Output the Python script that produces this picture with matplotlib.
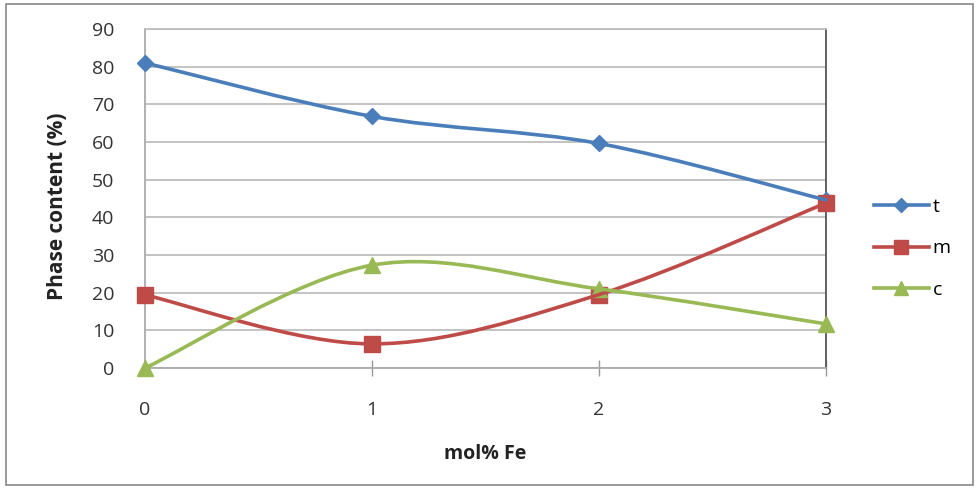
import numpy as np
import matplotlib
matplotlib.use("Agg")
import matplotlib.pyplot as plt
from matplotlib.path import Path
from matplotlib.patches import PathPatch, Rectangle
from matplotlib.lines import Line2D

plt.rcParams['font.family'] = ['Open Sans', 'DejaVu Sans']

x_vals = [0, 1, 2, 3]
t_vals = [81.0, 66.8, 59.6, 44.6]
m_vals = [19.4, 6.4, 19.5, 43.8]
c_vals = [0.0, 27.3, 21.0, 11.7]
series_names = ['t', 'm', 'c']
colors = ['#4A7EBB', '#BE4B48', '#98B954']
markers = ['D', 's', '^']
msizes = [8, 12, 12]

fig = plt.figure(figsize=(9.78, 4.88), dpi=100)
fig.patches.append(Rectangle((0.006, 0.006), 0.989, 0.986, transform=fig.transFigure,
                             fill=False, edgecolor='#888888', lw=1.2))
ax = fig.add_axes([0.1483, 0.2459, 0.6963, 0.6947])


def smooth_path(xs, ys, ax):
    # Excel-like smoothing: cubic Bezier with Catmull-Rom control points, in display space
    pts = ax.transData.transform(np.column_stack([xs, ys]))
    n = len(pts)
    verts = [pts[0]]
    codes = [Path.MOVETO]
    for i in range(n - 1):
        p0 = pts[i - 1] if i > 0 else pts[i]
        p1 = pts[i]
        p2 = pts[i + 1]
        p3 = pts[i + 2] if i + 2 < n else pts[i + 1]
        c1 = p1 + (p2 - p0) / 6.0
        c2 = p2 - (p3 - p1) / 6.0
        verts += [c1, c2, p2]
        codes += [Path.CURVE4] * 3
    return Path(verts, codes)


ax.set_xlim(0, 3)
ax.set_ylim(0, 90)
fig.canvas.draw()

for ys, col, mk, ms, name in zip([t_vals, m_vals, c_vals], colors, markers, msizes, series_names):
    p = smooth_path(x_vals, ys, ax)
    patch = PathPatch(p, transform=None, fill=False, edgecolor=col, lw=2.6, zorder=3,
                      capstyle='round', joinstyle='round')
    patch.set_clip_on(False)
    fig.artists.append(patch)
    ax.plot(x_vals, ys, linestyle='none', marker=mk, markersize=ms, color=col,
            markeredgecolor=col, clip_on=False, zorder=4)

ax.set_yticks(np.arange(0, 91, 10))
ax.set_xticks(x_vals)
ax.yaxis.grid(True, color='#BEBEBE', lw=1.3)
ax.set_axisbelow(True)
ax.tick_params(axis='y', length=0, pad=22, labelsize=14, labelcolor='#333333')
ax.tick_params(axis='x', direction='inout', length=12, width=1, color='#999999',
               pad=18, labelsize=14, labelcolor='#333333')
for s in ['left', 'bottom']:
    ax.spines[s].set_color('#AAAAAA')
    ax.spines[s].set_linewidth(1.3)
ax.spines['top'].set_color('#BEBEBE')
ax.spines['top'].set_linewidth(1.3)
ax.spines['right'].set_color('#555555')
ax.spines['right'].set_linewidth(1.3)

ax.set_xlabel('mol% Fe', fontsize=14, fontweight='bold', labelpad=18, color='#222222')
ax.set_ylabel('Phase content (%)', fontsize=15, fontweight='bold', color='#222222')
ax.yaxis.set_label_coords(-0.113, 0.477)

handles = [Line2D([], [], color=c, lw=2.6, marker=mk, markersize=s)
           for c, mk, s in zip(colors, markers, [7, 10, 10])]
ax.legend(handles, series_names, frameon=False, loc='center left',
          bbox_to_anchor=(1.045, 0.353), handlelength=2.8, handletextpad=0.2,
          labelspacing=1.2, fontsize=14)

fig.savefig('out.png', dpi=100)
